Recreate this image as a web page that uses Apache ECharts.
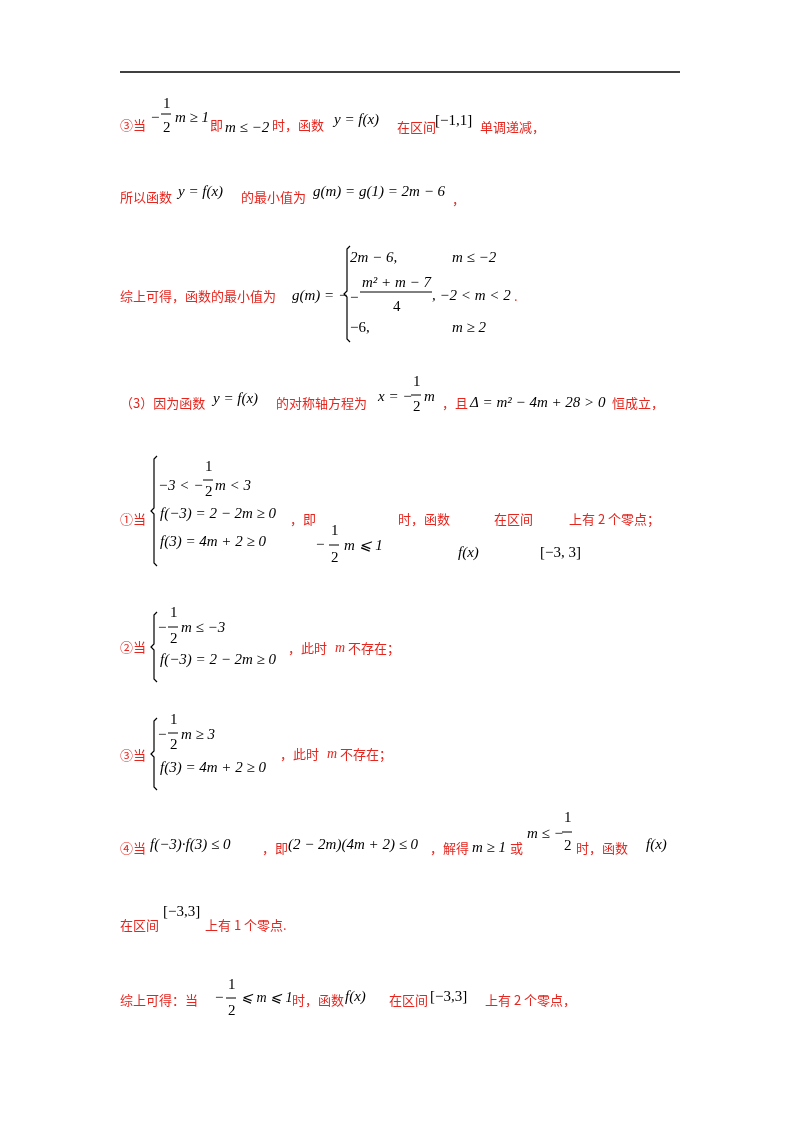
<!DOCTYPE html>
<html><head><meta charset="utf-8">
<script src="https://cdn.jsdelivr.net/npm/echarts@6/dist/echarts.min.js"></script>
<style>html,body{margin:0;padding:0;background:#fff}#c{width:800px;height:1132px}</style>
</head><body><div id="c"></div>
<script>
const RED='#e5261f', BLK='#000';
const CN='"Noto Sans CJK SC", sans-serif', SERIF='"Liberation Serif", "DejaVu Serif", serif';
// red Chinese texts [x, y, text]
const redTexts=[
 [120,125,'③当'],[210,125,'即'],[272,125,'时，函数'],[397,127,'在区间'],[480,127,'单调递减，'],
 [120,197,'所以函数'],[241,197,'的最小值为'],[452,199,'，'],
 [120,296,'综上可得，函数的最小值为'],[514,296,'.'],
 [120,403,'（3）因为函数'],[276,403,'的对称轴方程为'],[442,403,'，且'],[612,403,'恒成立，'],
 [120,519,'①当'],[290,519,'，即'],[398,519,'时，函数'],[494,519,'在区间'],[569,519,'上有 2 个零点；'],
 [120,647,'②当'],[288,648,'，此时'],[348,648,'不存在；'],
 [120,755,'③当'],[280,754,'，此时'],[340,754,'不存在；'],
 [120,848,'④当'],[262,848,'，即'],[430,848,'，解得'],[510,848,'或'],[576,848,'时，函数'],
 [120,925,'在区间'],[205,925,'上有 1 个零点.'],
 [120,1000,'综上可得：当'],[292,1000,'时，函数'],[389,1000,'在区间'],[485,1000,'上有 2 个零点，']
];
// math texts [x, y, text, italic?, size, color]
const mathTexts=[
 [151,118,'−'],[163,104,'1'],[163,128,'2'],[175,118,'m ≥ 1',1],[225,128,'m ≤ −2',1],[334,120,'y = f(x)',1],[435,121,'[−1,1]'],
 [178,192,'y = f(x)',1],[313,192,'g(m) = g(1) = 2m − 6',1],
 [292,296,'g(m) = −',1],[350,258,'2m − 6,',1],[452,258,'m ≤ −2',1],[350,298,'−'],[362,283,'m² + m − 7',1],[393,307,'4'],[432,296,', −2 < m < 2',1],[350,328,'−6,'],[452,328,'m ≥ 2',1],
 [213,399,'y = f(x)',1],[378,397,'x = −',1],[413,382,'1'],[413,407,'2'],[424,397,'m',1],[470,403,'Δ = m² − 4m + 28 > 0',1],
 [158,486,'−3 < −',1],[205,467,'1'],[205,492,'2'],[215,486,'m < 3',1],[160,514,'f(−3) = 2 − 2m ≥ 0',1],[160,542,'f(3) = 4m + 2 ≥ 0',1],
 [316,545,'−'],[331,531,'1'],[331,558,'2'],[344,546,'m ⩽ 1',1],[458,553,'f(x)',1],[540,553,'[−3, 3]'],
 [158,628,'−'],[170,613,'1'],[170,639,'2'],[181,628,'m ≤ −3',1],[160,660,'f(−3) = 2 − 2m ≥ 0',1],[335,648,'m',1,14,RED],
 [158,735,'−'],[170,720,'1'],[170,745,'2'],[181,735,'m ≥ 3',1],[160,768,'f(3) = 4m + 2 ≥ 0',1],[327,754,'m',1,14,RED],
 [150,845,'f(−3)·f(3) ≤ 0',1],[288,845,'(2 − 2m)(4m + 2) ≤ 0',1],[472,848,'m ≥ 1',1],[527,834,'m ≤ −',1],[564,818,'1'],[564,846,'2'],[646,845,'f(x)',1],
 [163,912,'[−3,3]'],
 [215,998,'−'],[228,985,'1'],[228,1011,'2'],[241,998,'⩽ m ⩽ 1',1,14],[345,997,'f(x)',1],[430,997,'[−3,3]']
];
// fraction bars [x1,x2,y]
const bars=[[161,171,114],[360,432,292],[411,421,395],[203,213,480],[329,339,545],[168,178,627],[168,178,733],[562,572,832],[226,236,998]];
// braces [x, yTop, yBottom]
const braces=[[345,246,342],[152,456,566],[152,612,682],[152,718,790]];

const g=[];
g.push({type:'line',shape:{x1:120,y1:72,x2:680,y2:72},style:{stroke:'#000',lineWidth:1.5}});
redTexts.forEach(([x,y,t])=>g.push({type:'text',x,y,style:{text:t,fill:RED,font:'13px '+CN,verticalAlign:'middle'}}));
mathTexts.forEach(([x,y,t,it,sz,col])=>g.push({type:'text',x,y,style:{text:t,fill:col||BLK,font:(it?'italic ':'')+(sz||15)+'px '+SERIF,verticalAlign:'middle'}}));
bars.forEach(([a,b,y])=>g.push({type:'line',shape:{x1:a,y1:y,x2:b,y2:y},style:{stroke:'#000',lineWidth:1}}));
braces.forEach(([x,t,b])=>{const m=(t+b)/2;g.push({type:'polyline',shape:{points:[[x+5,t],[x+2,t+3],[x+2,m-3],[x-1,m],[x+2,m+3],[x+2,b-3],[x+5,b]]},style:{stroke:'#000',lineWidth:1.2,fill:null}});});

const chart=echarts.init(document.getElementById('c'));
chart.setOption({backgroundColor:'#fff',graphic:g});
</script></body></html>
